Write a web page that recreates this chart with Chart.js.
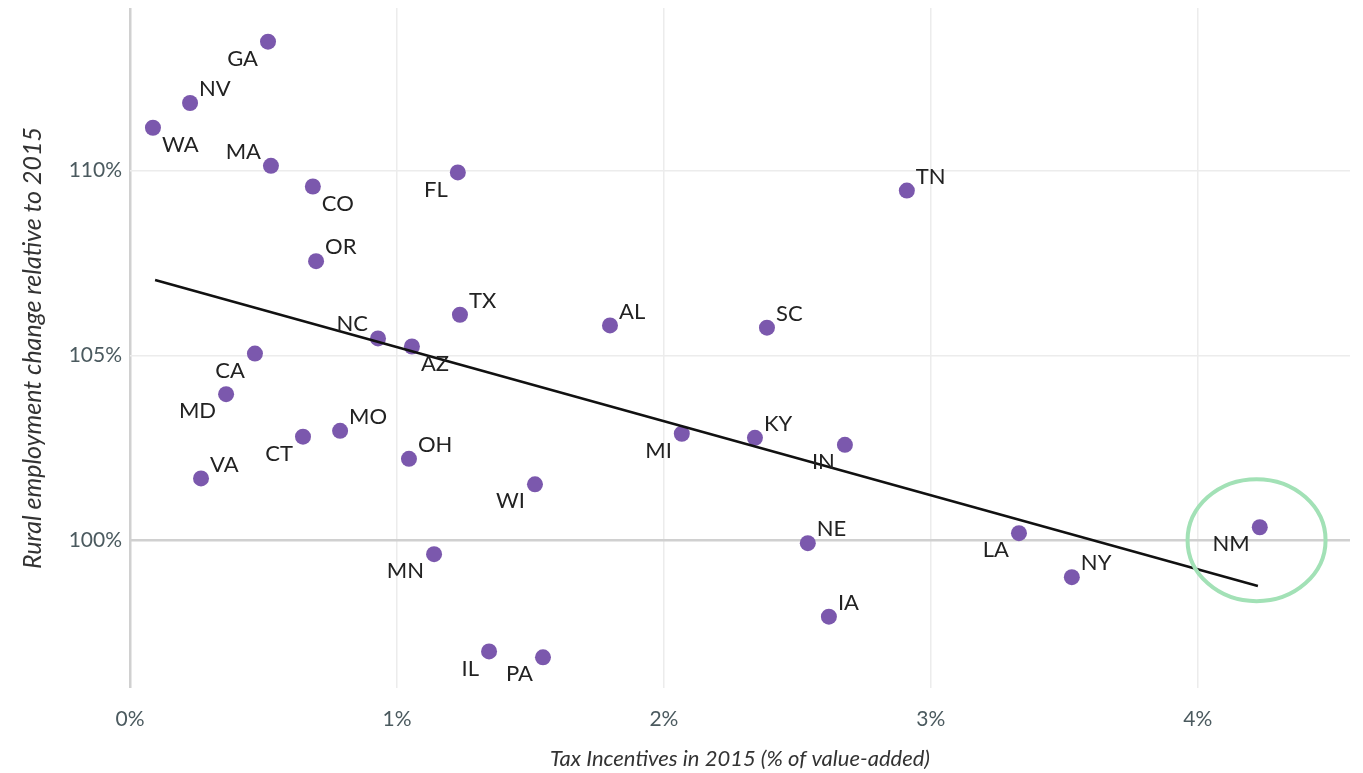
<!DOCTYPE html>
<html>
<head>
	<title>Rural employment vs tax incentives</title>
	<script src="https://cdn.jsdelivr.net/npm/chart.js"></script>
	<style>
		html, body { margin: 0; padding: 0; background: #fff; }
		#wrap { width: 1363px; height: 773px; }
	</style>
</head>
<body>
	<div id="wrap"><canvas id="myChartCanvas1" width="1363" height="773"></canvas></div>

<script>
	// dados
	var estados = ["GA", "NV", "WA", "MA", "CO", "FL", "TN", "OR", "TX", "AL", "SC", "NC", "AZ", "CA", "MD", "MO",
		"CT", "OH", "MI", "KY", "IN", "VA", "WI", "NE", "LA", "NM", "NY", "MN", "IA", "IL", "PA"];
	var incentivos = [0.517, 0.225, 0.086, 0.528, 0.685, 1.228, 2.91, 0.697, 1.236, 1.798, 2.386, 0.929, 1.056, 0.468, 0.36, 0.787,
		0.648, 1.045, 2.067, 2.341, 2.678, 0.266, 1.517, 2.539, 3.33, 4.232, 3.528, 1.139, 2.618, 1.345, 1.547];
	var emprego = [113.49, 111.83, 111.16, 110.13, 109.57, 109.95, 109.46, 107.55, 106.10, 105.81, 105.75, 105.46, 105.24, 105.05, 103.95, 102.96,
		102.80, 102.20, 102.88, 102.77, 102.58, 101.67, 101.51, 99.92, 100.19, 100.35, 99.0, 99.62, 97.93, 96.99, 96.83];

	// linha de tendencia (pontas)
	var tendenciaX = [0.094, 4.225];
	var tendenciaY = [107.04, 98.76];

	var ticksX = [0, 1, 2, 3, 4];
	var ticksY = [100, 105, 110];

	// destaque NM
	var destaqueX = 4.22;
	var destaqueY = 100.0;

	// posicao de cada rotulo: tr = direita acima, bl = esquerda abaixo ...
	var posRotulo = ["bl", "tr", "br", "tl", "br", "bl", "tr", "tr", "tr", "tr", "tr", "tl", "br", "bl", "bl", "tr",
		"bl", "tr", "bl", "tr", "bl", "tr", "bl", "tr", "bl", "bl", "tr", "bl", "tr", "bl", "bl"];

	var pontos = [];
	for (var i = 0; i < estados.length; i++) {
		pontos.push({ x: incentivos[i], y: emprego[i] });
	}
	var linha = [];
	for (var j = 0; j < tendenciaX.length; j++) {
		linha.push({ x: tendenciaX[j], y: tendenciaY[j] });
	}

	var rotulos = {
		id: 'rotulos',
		afterDatasetsDraw: function (chart) {
			var ctx = chart.ctx;
			var meta = chart.getDatasetMeta(1);
			ctx.save();
			ctx.font = '22px Lato';
			ctx.fillStyle = '#222';
			ctx.textBaseline = 'middle';
			meta.data.forEach(function (p, k) {
				var pos = posRotulo[k];
				var dx = pos[1] == 'r' ? 9 : -10;
				var dy = pos[0] == 't' ? -14 : 17;
				ctx.textAlign = pos[1] == 'r' ? 'left' : 'right';
				ctx.fillText(estados[k], p.x + dx, p.y + dy);
			});
			ctx.restore();
		}
	};

	var circulo = {
		id: 'circulo',
		afterDatasetsDraw: function (chart) {
			var ctx = chart.ctx;
			var cx = chart.scales.x.getPixelForValue(destaqueX);
			var cy = chart.scales.y.getPixelForValue(destaqueY);
			ctx.save();
			ctx.strokeStyle = '#a2e1b6';
			ctx.lineWidth = 4;
			ctx.beginPath();
			ctx.ellipse(cx, cy, 69, 61, 0, 0, Math.PI * 2);
			ctx.stroke();
			ctx.restore();
		}
	};

	const config = {
		type: 'scatter',
		data: {
			datasets: [
				{
					type: 'line',
					label: 'tendencia',
					data: linha,
					borderColor: '#111',
					borderWidth: 2.5,
					pointRadius: 0,
					fill: false
				},
				{
					label: 'estados',
					data: pontos,
					backgroundColor: '#7b58ad',
					borderWidth: 0,
					pointRadius: 8,
					pointHoverRadius: 8
				}
			]
		},
		options: {
			responsive: false,
			animation: false,
			layout: { padding: { top: 5, right: 13, left: 0, bottom: 0 } },
			plugins: {
				legend: { display: false },
				tooltip: { enabled: false }
			},
			scales: {
				x: {
					type: 'linear',
					min: 0,
					max: 4.57,
					afterBuildTicks: function (s) { s.ticks = ticksX.map(function (v) { return { value: v }; }); },
					afterFit: function (s) { s.height = 85; s.paddingLeft = 0; s.paddingRight = 0; },
					border: { display: false },
					grid: {
						drawTicks: false,
						lineWidth: function (c) { return c.tick && c.tick.value === 0 ? 2.5 : 1.5; },
						color: function (c) { return c.tick && c.tick.value === 0 ? '#d0d0d0' : '#ececec'; }
					},
					ticks: {
						padding: 19,
						color: '#4b5a5f',
						font: { family: 'Lato', size: 21 },
						callback: function (v) { return v + '%'; }
					},
					title: {
						display: true,
						text: 'Tax Incentives in 2015 (% of value-added)',
						color: '#333',
						font: { family: 'Lato', size: 22, style: 'italic' },
						padding: { top: 0, bottom: 1 }
					}
				},
				y: {
					type: 'linear',
					min: 96,
					max: 114.4,
					afterBuildTicks: function (s) { s.ticks = ticksY.map(function (v) { return { value: v }; }); },
					afterFit: function (s) { s.width = 130; s.paddingTop = 0; s.paddingBottom = 0; },
					border: { display: false },
					grid: {
						drawTicks: false,
						lineWidth: function (c) { return c.tick && c.tick.value === 100 ? 2.5 : 1.5; },
						color: function (c) { return c.tick && c.tick.value === 100 ? '#d0d0d0' : '#ececec'; }
					},
					ticks: {
						padding: 8,
						color: '#4b5a5f',
						font: { family: 'Lato', size: 21 },
						callback: function (v) { return v + '%'; }
					},
					title: {
						display: true,
						text: 'Rural employment change relative to 2015',
						color: '#333',
						font: { family: 'Lato', size: 25, style: 'italic' },
						padding: { top: 18, bottom: 0 }
					}
				}
			}
		},
		plugins: [circulo, rotulos]
	};

	let myChart = new Chart(document.getElementById('myChartCanvas1'), config);
</script>
</body>
</html>
